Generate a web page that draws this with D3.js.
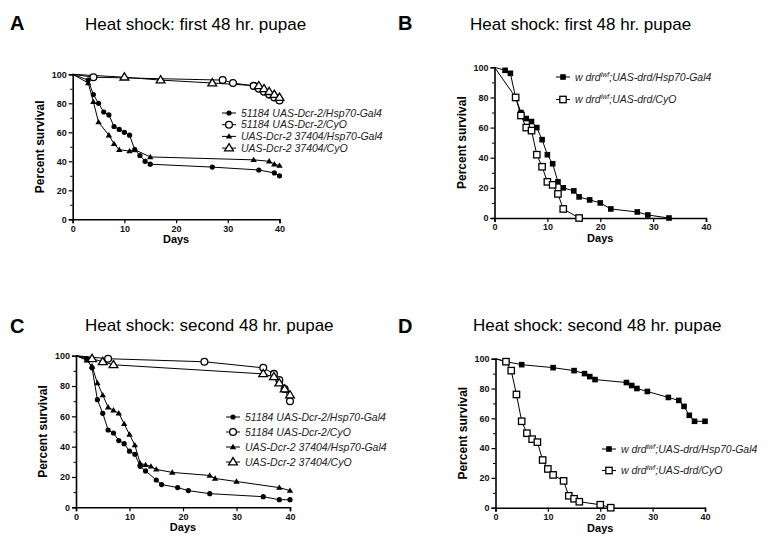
<!DOCTYPE html>
<html>
<head>
<meta charset="utf-8">
<script src="https://cdn.jsdelivr.net/npm/d3@7"></script>
<style>
  body { margin: 0; background: #fff; }
  svg { font-family: Arial, "Liberation Sans", sans-serif; }
</style>
</head>
<body>
<div id="chart"></div>
<script>
// panel A: first 48 hr, Dcr-2 lines
let aDays1 = [0,3,4,5,6,7,8,9,10,11,12,13,14,15,27,36,39,40];
let aPct1  = [100,96,86,80,74,72,64,62,60,58,48,44,40,38,36,34,32,30];
let aDays2 = [0,4,29,31,35,36,37,38,39,40];
let aPct2  = [100,98,96,94,92,90,88,86,84,82];
let aDays3 = [0,3,4,5,7,8,9,11,12,15,35,38,39,40];
let aPct3  = [100,94,81,67,58,52,48,47,48,43,41,40,38,37];
let aDays4 = [0,10,17,27,36,37,38,39,40];
let aPct4  = [100,98,96,94,92,90,88,86,84];

// panel B: first 48 hr, drd
let bDays1 = [0,2,3,4,5,6,7,8,9,10,11,12,13,15,16,18,20,22,27,29,33];
let bPct1  = [100,98,96,80,70,66,64,60,52,42,36,24,20,18,14,12,10,6,4,2,0];
let bDays2 = [0,4,5,6,7,8,9,10,11,12,13,16];
let bPct2  = [100,80,68,60,58,42,34,24,22,16,6,0];

// panel C: second 48 hr, Dcr-2 lines
let cDays1 = [0,2,3,4,5,6,7,8,9,10,11,12,13,15,16,19,21,25,35,38,40];
let cPct1  = [100,98,92,71,62,51,49,44,42,37,35,27,24,18,15,13,11,9,7,5,5];
let cDays2 = [0,6,24,35,37,38,39,40];
let cPct2  = [100,98,96,92,88,84,78,70];
let cDays3 = [0,2,3,4,5,6,7,8,9,10,11,12,13,14,15,18,25,26,30,38,40];
let cPct3  = [100,97,93,82,74,66,64,62,55,48,41,29,28,27,25,23,21,19,17,13,11];
let cDays4 = [0,3,5,7,35,37,38,39,40];
let cPct4  = [100,98,96,94,88,86,82,78,74];

// panel D: second 48 hr, drd
let dDays1 = [0,2,5,11,15,17,18,19,25,26,27,29,33,35,36,37,38,40];
let dPct1  = [100,98,96,94,92,90,88,86,84,82,80,78,74,72,68,62,58,58];
let dDays2 = [0,2,3,4,5,6,7,8,9,10,11,13,14,15,16,20,22];
let dPct2  = [100,98,92,76,58,50,46,44,32,26,22,18,8,6,4,2,0];

let dcrLabels = ["51184 UAS-Dcr-2/Hsp70-Gal4", "51184 UAS-Dcr-2/CyO",
                 "UAS-Dcr-2 37404/Hsp70-Gal4", "UAS-Dcr-2 37404/CyO"];
let drdLabels = [";UAS-drd/Hsp70-Gal4", ";UAS-drd/CyO"];
let xTicks = [0,10,20,30,40];
let yTicks = [0,20,40,60,80,100];

let zip = (xs, ys) => xs.map((x,i) => ({x:x, y:ys[i]}));

let svg = d3.select("#chart").append("svg")
    .attr("width", 775).attr("height", 547);

// marker shapes
function drawMarker(g, kind, x, y){
    if(kind=="fcircle"){
        g.append("circle").attr("cx",x).attr("cy",y).attr("r",2.6).attr("fill","#000");
    }else if(kind=="ocircle"){
        g.append("circle").attr("cx",x).attr("cy",y).attr("r",3.4)
            .attr("fill","#fff").attr("stroke","#000").attr("stroke-width",1.3);
    }else if(kind=="ftri"){
        g.append("path").attr("d",`M${x},${y-3.2}L${x+3.2},${y+2.2}L${x-3.2},${y+2.2}Z`).attr("fill","#000");
    }else if(kind=="otri"){
        g.append("path").attr("d",`M${x},${y-4.4}L${x+4.4},${y+2.8}L${x-4.4},${y+2.8}Z`)
            .attr("fill","#fff").attr("stroke","#000").attr("stroke-width",1.3);
    }else if(kind=="fsq"){
        g.append("rect").attr("x",x-2.8).attr("y",y-2.8).attr("width",5.6).attr("height",5.6).attr("fill","#000");
    }else if(kind=="osq"){
        g.append("rect").attr("x",x-3.2).attr("y",y-3.2).attr("width",6.4).attr("height",6.4)
            .attr("fill","#fff").attr("stroke","#000").attr("stroke-width",1.3);
    }
}

function panel(cfg){
    let g = svg.append("g");
    let x = d3.scaleLinear().domain([0,40]).range(cfg.xr);
    let y = d3.scaleLinear().domain([0,100]).range(cfg.yr);

    g.append("text").attr("x",cfg.letter[1]).attr("y",cfg.letter[2])
        .attr("font-size",20).attr("font-weight","bold").text(cfg.letter[0]);
    g.append("text").attr("x",cfg.title[1]).attr("y",cfg.title[2])
        .attr("font-size",17).text(cfg.title[0]);

    let xAxis = g.append("g").attr("transform",`translate(0,${cfg.yr[0]})`)
        .call(d3.axisBottom(x).tickValues(xTicks).tickSize(4).tickPadding(2));
    let yAxis = g.append("g").attr("transform",`translate(${cfg.xr[0]},0)`)
        .call(d3.axisLeft(y).tickValues(yTicks).tickSize(4).tickPadding(2));
    g.append("g").attr("transform",`translate(${cfg.xr[0]},0)`)
        .call(d3.axisLeft(y).tickValues([10,30,50,70,90]).tickSize(2.5).tickFormat(""))
        .call(a => a.select(".domain").remove());
    [xAxis, yAxis].forEach(a => {
        a.select(".domain").attr("stroke-width",1.6);
        a.selectAll(".tick line").attr("stroke-width",1.2);
        a.selectAll("text").attr("font-size",9).attr("font-weight","bold")
            .attr("font-family","Arial, 'Liberation Sans', sans-serif").attr("fill","#111");
    });

    g.append("text").attr("x",(cfg.xr[0]+cfg.xr[1])/2).attr("y",cfg.yr[0]+24)
        .attr("text-anchor","middle").attr("font-size",11).attr("font-weight","bold").text("Days");
    g.append("text").attr("transform",`translate(${cfg.xr[0]-29},${(cfg.yr[0]+cfg.yr[1])/2}) rotate(-90)`)
        .attr("text-anchor","middle").attr("font-size",12).attr("font-weight","bold").text("Percent survival");

    let line = d3.line().x(d => x(d.x)).y(d => y(d.y));
    cfg.series.forEach(s => {
        g.append("path").datum(s.data).attr("d",line)
            .attr("fill","none").attr("stroke","#000").attr("stroke-width",1);
    });
    // no symbol at the starting point (day 0)
    cfg.series.forEach(s => {
        let mg = g.append("g");
        s.data.filter(d => d.x > 0).forEach(d => drawMarker(mg, s.marker, x(d.x), y(d.y)));
    });

    // legend
    cfg.series.forEach((s,i) => {
        let ly = cfg.legend.y + i*cfg.legend.dy;
        let lx = cfg.legend.x;
        g.append("line").attr("x1",lx-7).attr("x2",lx+7).attr("y1",ly).attr("y2",ly)
            .attr("stroke","#000").attr("stroke-width",1);
        drawMarker(g, s.marker, lx, ly);
        let t = g.append("text").attr("x",lx+12).attr("y",ly+3.5)
            .attr("font-size",10.5).attr("font-style","italic").attr("fill","#222");
        if(s.drd){
            t.append("tspan").text("w drd");
            t.append("tspan").attr("dy",-4).attr("font-size",7).text("lwf");
            t.append("tspan").attr("dy",4).text(s.label);
        }else{
            t.text(s.label);
        }
    });
}

panel({
    letter:["A",10,30], title:["Heat shock: first 48 hr. pupae",85,30],
    xr:[72.7,279.5], yr:[219.3,74.3],
    legend:{x:229, y:113, dy:11.7},
    series:[
        {data:zip(aDays1,aPct1), marker:"fcircle", label:dcrLabels[0]},
        {data:zip(aDays2,aPct2), marker:"ocircle", label:dcrLabels[1]},
        {data:zip(aDays3,aPct3), marker:"ftri", label:dcrLabels[2]},
        {data:zip(aDays4,aPct4), marker:"otri", label:dcrLabels[3]}
    ]
});
panel({
    letter:["B",398,30], title:["Heat shock: first 48 hr. pupae",470,30],
    xr:[494.5,706], yr:[218,67.3],
    legend:{x:563, y:77, dy:22.5},
    series:[
        {data:zip(bDays1,bPct1), marker:"fsq", label:drdLabels[0], drd:true},
        {data:zip(bDays2,bPct2), marker:"osq", label:drdLabels[1], drd:true}
    ]
});
panel({
    letter:["C",10,333], title:["Heat shock: second 48 hr. pupae",85,331],
    xr:[76,290], yr:[507.3,355.7],
    legend:{x:233, y:417, dy:15},
    series:[
        {data:zip(cDays1,cPct1), marker:"fcircle", label:dcrLabels[0]},
        {data:zip(cDays2,cPct2), marker:"ocircle", label:dcrLabels[1]},
        {data:zip(cDays3,cPct3), marker:"ftri", label:dcrLabels[2]},
        {data:zip(cDays4,cPct4), marker:"otri", label:dcrLabels[3]}
    ]
});
panel({
    letter:["D",398,333], title:["Heat shock: second 48 hr. pupae",473,331],
    xr:[495.5,705], yr:[507.7,358.7],
    legend:{x:609, y:449, dy:21.5},
    series:[
        {data:zip(dDays1,dPct1), marker:"fsq", label:drdLabels[0], drd:true},
        {data:zip(dDays2,dPct2), marker:"osq", label:drdLabels[1], drd:true}
    ]
});
</script>
</body>
</html>
